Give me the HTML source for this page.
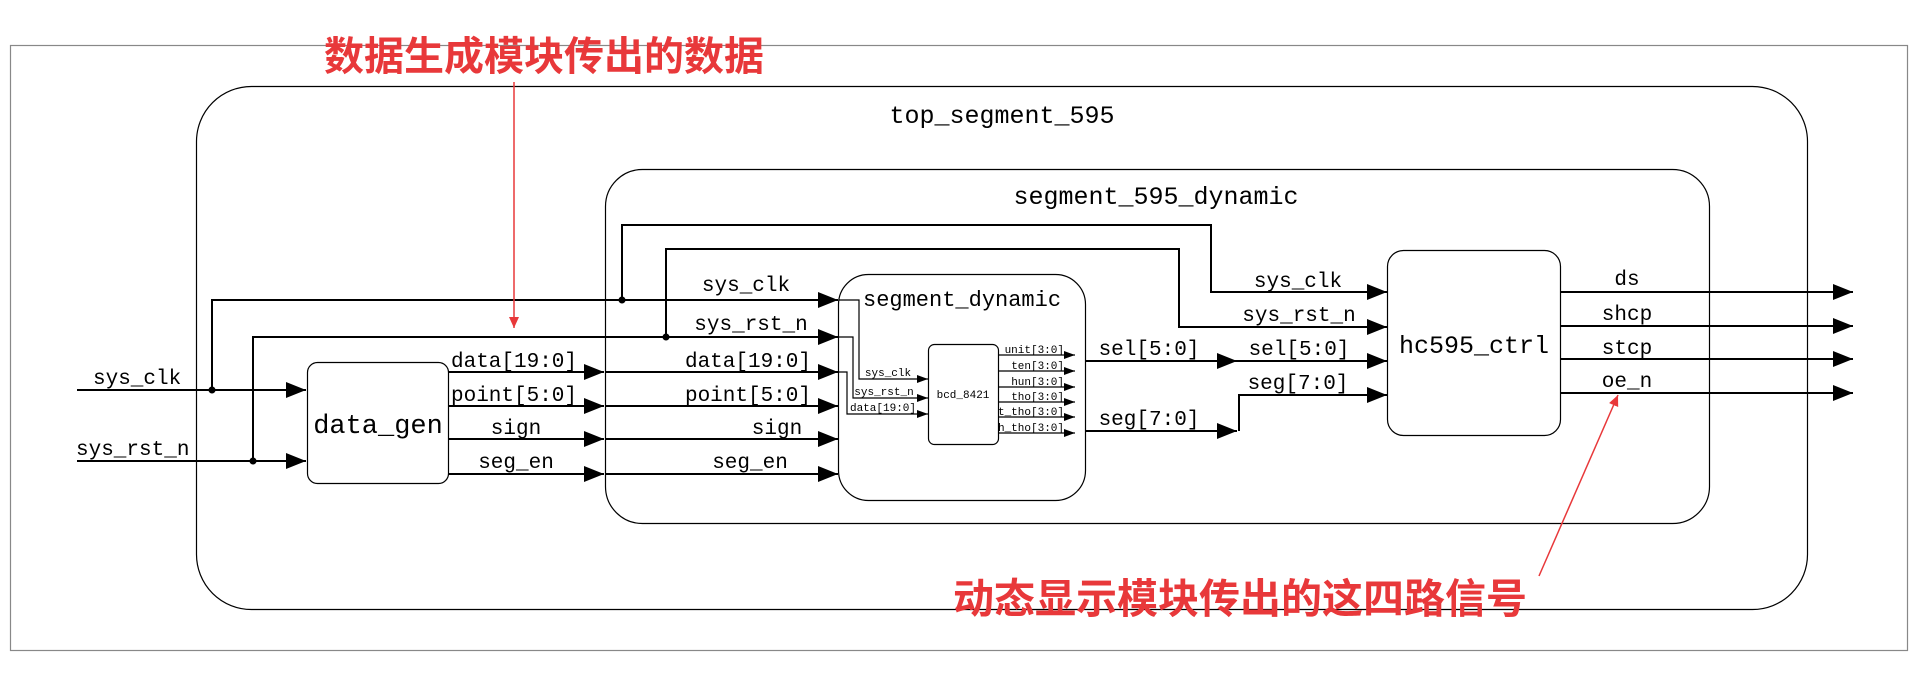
<!DOCTYPE html>
<html><head><meta charset="utf-8"><style>
html,body{margin:0;padding:0;background:#fff;}
svg{display:block;}
text{font-family:"Liberation Mono","DejaVu Sans Mono",monospace;fill:#000;}
.cn{font-family:"Liberation Sans","Noto Sans CJK SC",sans-serif;font-weight:bold;fill:#e8383a;}
</style></head><body>
<svg width="1920" height="691" viewBox="0 0 1920 691" xmlns="http://www.w3.org/2000/svg">
<defs>
<marker id="a" markerUnits="userSpaceOnUse" markerWidth="22" markerHeight="16" refX="20" refY="8" orient="auto"><path d="M0,0 L20,8 L0,16 z" fill="#000"/></marker>
<marker id="s" markerUnits="userSpaceOnUse" markerWidth="12" markerHeight="8" refX="11" refY="4" orient="auto"><path d="M0,0 L11,4 L0,8 z" fill="#000"/></marker>
<marker id="r" markerUnits="userSpaceOnUse" markerWidth="12" markerHeight="12" refX="11" refY="5" orient="auto"><path d="M0,0 L11,5 L0,10 z" fill="#e8383a"/></marker>
</defs>
<rect x="10.5" y="45.5" width="1897" height="605" fill="none" stroke="#888" stroke-width="1.2"/>
<rect x="196.5" y="86.5" width="1611" height="523" rx="55" fill="none" stroke="#000" stroke-width="1.2"/>
<text x="1002" y="123" font-size="25" text-anchor="middle">top_segment_595</text>
<rect x="605.5" y="169.5" width="1104" height="354" rx="37" fill="none" stroke="#000" stroke-width="1.2"/>
<text x="1156" y="204" font-size="25" text-anchor="middle">segment_595_dynamic</text>
<rect x="838.5" y="274.5" width="247" height="226" rx="30" fill="none" stroke="#000" stroke-width="1.2"/>
<text x="863" y="306" font-size="22">segment_dynamic</text>
<rect x="928.5" y="344.5" width="70" height="100" rx="6" fill="none" stroke="#000" stroke-width="1.2"/>
<text x="963" y="398" font-size="11" text-anchor="middle">bcd_8421</text>
<rect x="307.5" y="362.5" width="141" height="121" rx="10" fill="none" stroke="#000" stroke-width="1.2"/>
<text x="378" y="433" font-size="27" text-anchor="middle">data_gen</text>
<rect x="1387.5" y="250.5" width="173" height="185" rx="16" fill="none" stroke="#000" stroke-width="1.2"/>
<text x="1474" y="353" font-size="25" text-anchor="middle">hc595_ctrl</text>

<g stroke="#000" stroke-width="2" fill="none">
<path d="M77,390 H306" marker-end="url(#a)"/>
<path d="M77,461 H306" marker-end="url(#a)"/>
<path d="M212,390 V300 H838" marker-end="url(#a)"/>
<path d="M253,461 V337 H838" marker-end="url(#a)"/>
<path d="M622,300 V225 H1211 V292 H1387" marker-end="url(#a)"/>
<path d="M666,337 V249 H1179 V327 H1387" marker-end="url(#a)"/>
<path d="M448,372 H604" marker-end="url(#a)"/>
<path d="M448,406 H604" marker-end="url(#a)"/>
<path d="M448,439 H604" marker-end="url(#a)"/>
<path d="M448,474 H604" marker-end="url(#a)"/>
<path d="M606,372 H838" marker-end="url(#a)"/>
<path d="M606,406 H838" marker-end="url(#a)"/>
<path d="M606,439 H838" marker-end="url(#a)"/>
<path d="M606,474 H838" marker-end="url(#a)"/>
<path d="M1086,361 H1237" marker-end="url(#a)"/>
<path d="M1237,361 H1387" marker-end="url(#a)"/>
<path d="M1086,431 H1237" marker-end="url(#a)"/>
<path d="M1239,431 V395 H1387" marker-end="url(#a)"/>
<path d="M1561,292 H1853" marker-end="url(#a)"/>
<path d="M1561,326 H1853" marker-end="url(#a)"/>
<path d="M1561,359 H1853" marker-end="url(#a)"/>
<path d="M1561,393 H1853" marker-end="url(#a)"/>
</g>
<g fill="#000"><circle cx="212" cy="390" r="3.5"/><circle cx="253" cy="461" r="3.5"/><circle cx="622" cy="300" r="3.5"/><circle cx="666" cy="337" r="3.5"/></g>
<g stroke="#000" stroke-width="1.2" fill="none">
<path d="M839,300 H859 V379 H928" marker-end="url(#s)"/>
<path d="M839,337 H853 V398 H928" marker-end="url(#s)"/>
<path d="M839,372 H847 V414 H928" marker-end="url(#s)"/>
<path d="M999,355 H1075" marker-end="url(#s)"/>
<path d="M999,371 H1075" marker-end="url(#s)"/>
<path d="M999,387 H1075" marker-end="url(#s)"/>
<path d="M999,402 H1075" marker-end="url(#s)"/>
<path d="M999,417 H1075" marker-end="url(#s)"/>
<path d="M999,433 H1075" marker-end="url(#s)"/>
</g>
<g font-size="11">
<text x="888" y="376" text-anchor="middle">sys_clk</text>
<text x="884" y="395" text-anchor="middle">sys_rst_n</text>
<text x="883" y="411" text-anchor="middle">data[19:0]</text>
<g text-anchor="end">
<text x="1064" y="353">unit[3:0]</text>
<text x="1064" y="369">ten[3:0]</text>
<text x="1064" y="385">hun[3:0]</text>
<text x="1064" y="400">tho[3:0]</text>
<text x="1064" y="415">t_tho[3:0]</text>
<text x="1064" y="431">h_tho[3:0]</text>
</g></g>
<g font-size="21">
<text x="93" y="384">sys_clk</text>
<text x="76" y="455">sys_rst_n</text>
<text x="514" y="367" text-anchor="middle">data[19:0]</text>
<text x="514" y="401" text-anchor="middle">point[5:0]</text>
<text x="516" y="434" text-anchor="middle">sign</text>
<text x="516" y="468" text-anchor="middle">seg_en</text>
<text x="811" y="367" text-anchor="end">data[19:0]</text>
<text x="811" y="401" text-anchor="end">point[5:0]</text>
<text x="777" y="434" text-anchor="middle">sign</text>
<text x="750" y="468" text-anchor="middle">seg_en</text>
<text x="746" y="291" text-anchor="middle">sys_clk</text>
<text x="751" y="330" text-anchor="middle">sys_rst_n</text>
<text x="1149" y="355" text-anchor="middle">sel[5:0]</text>
<text x="1149" y="425" text-anchor="middle">seg[7:0]</text>
<text x="1299" y="355" text-anchor="middle">sel[5:0]</text>
<text x="1298" y="389" text-anchor="middle">seg[7:0]</text>
<text x="1298" y="287" text-anchor="middle">sys_clk</text>
<text x="1299" y="321" text-anchor="middle">sys_rst_n</text>
<text x="1627" y="285" text-anchor="middle">ds</text>
<text x="1627" y="320" text-anchor="middle">shcp</text>
<text x="1627" y="354" text-anchor="middle">stcp</text>
<text x="1627" y="387" text-anchor="middle">oe_n</text>
</g>
<path d="M514,82 V328" stroke="#e8383a" stroke-width="1.5" fill="none" marker-end="url(#r)"/>
<path d="M1539,576 L1618,395" stroke="#e8383a" stroke-width="1.5" fill="none" marker-end="url(#r)"/>
<text class="cn" x="324" y="70" font-size="40">数据生成模块传出的数据</text>
<text class="cn" x="953" y="613" font-size="41">动态显示模块传出的这四路信号</text>
</svg>
</body></html>
